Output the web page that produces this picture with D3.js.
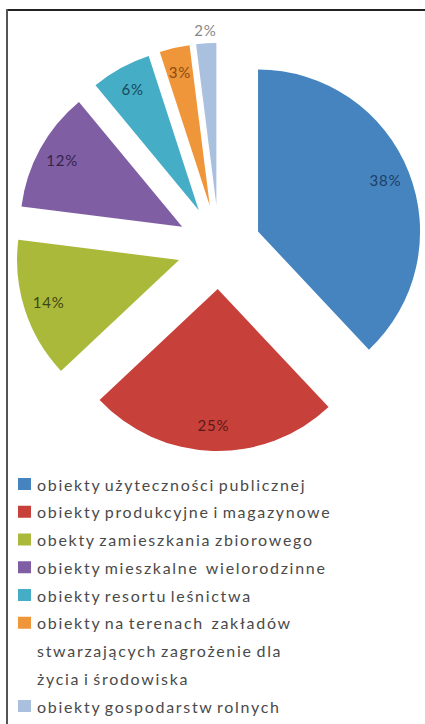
<!DOCTYPE html>
<html>
<head>
<meta charset="utf-8">
<script src="https://cdn.jsdelivr.net/npm/d3@7"></script>
<style>
  body { margin: 0; background: #fff; }
  svg { display: block; }
</style>
</head>
<body>
<div id="pie-chart"></div>
<script>
const categories = [
  "obiekty użyteczności publicznej",
  "obiekty produkcyjne i magazynowe",
  "obekty zamieszkania zbiorowego",
  "obiekty mieszkalne  wielorodzinne",
  "obiekty resortu leśnictwa",
  "obiekty na terenach  zakładów|stwarzających zagrożenie dla|życia i środowiska",
  "obiekty gospodarstw rolnych"
];
const shares = [38, 25, 14, 12, 6, 3, 2];
const colors = ["#4584bf", "#c8403a", "#aab93a", "#7f5ea3", "#46adc6", "#f0963a", "#a9c0df"];
const labelColors = ["#1e3f66", "#5a1a18", "#3e4612", "#35244c", "#17495a", "#8a4a10", "#888888"];

const width = 425, height = 724;
const cx = 219, cy = 247, radius = 162, explode = 42;

const svg = d3.select("#pie-chart")
  .append("svg")
    .attr("width", width)
    .attr("height", height);

// frame (only top and left edges visible in the crop)
svg.append("line").attr("x1", 7).attr("x2", width).attr("y1", 10).attr("y2", 10)
   .attr("stroke", "#222").attr("stroke-width", 2);
svg.append("line").attr("x1", 7).attr("x2", 7).attr("y1", 9).attr("y2", height)
   .attr("stroke", "#555").attr("stroke-width", 2);

const pie = d3.pie().sort(null).value(d => d);
const arcs = pie(shares);

const arc = d3.arc().innerRadius(0).outerRadius(radius);
const labelArc = d3.arc().innerRadius(137).outerRadius(137);
const outerLabelArc = d3.arc().innerRadius(175).outerRadius(175);

const g = svg.append("g").attr("transform", `translate(${cx}, ${cy})`);

function shift(d) {
  const a = (d.startAngle + d.endAngle) / 2;
  return [explode * Math.sin(a), -explode * Math.cos(a)];
}

g.selectAll("path")
  .data(arcs)
  .join("path")
    .attr("transform", d => `translate(${shift(d)})`)
    .attr("d", arc)
    .attr("fill", (d, i) => colors[i]);

g.selectAll("text.pct")
  .data(arcs)
  .join("text")
    .attr("class", "pct")
    .attr("transform", d => {
      const s = shift(d);
      const c = (d.value < 3 ? outerLabelArc : labelArc).centroid(d);
      return `translate(${c[0] + s[0]}, ${c[1] + s[1]})`;
    })
    .attr("text-anchor", "middle")
    .attr("dy", "0.35em")
    .attr("font-family", "Lato, 'Open Sans', sans-serif")
    .attr("font-size", 15)
    .attr("letter-spacing", 0.8)
    .attr("fill", (d, i) => labelColors[i])
    .text(d => d.value + "%");

// legend
const y = d3.scalePoint()
  .domain(d3.range(9))
  .range([485, 707]);

let row = 0;
categories.forEach((name, i) => {
  const lines = name.split("|");
  svg.append("rect")
    .attr("x", 18).attr("y", y(row) - 7)
    .attr("width", 13).attr("height", 12)
    .attr("fill", colors[i]);
  lines.forEach(line => {
    svg.append("text")
      .attr("x", 37).attr("y", y(row))
      .attr("dy", "0.35em")
      .attr("font-family", "Lato, 'Open Sans', sans-serif")
      .attr("font-size", 16)
      .attr("letter-spacing", 1.7)
      .attr("word-spacing", -2)
      .attr("fill", "#4a4a4a")
      .attr("xml:space", "preserve")
      .text(line);
    row++;
  });
});
</script>
</body>
</html>
